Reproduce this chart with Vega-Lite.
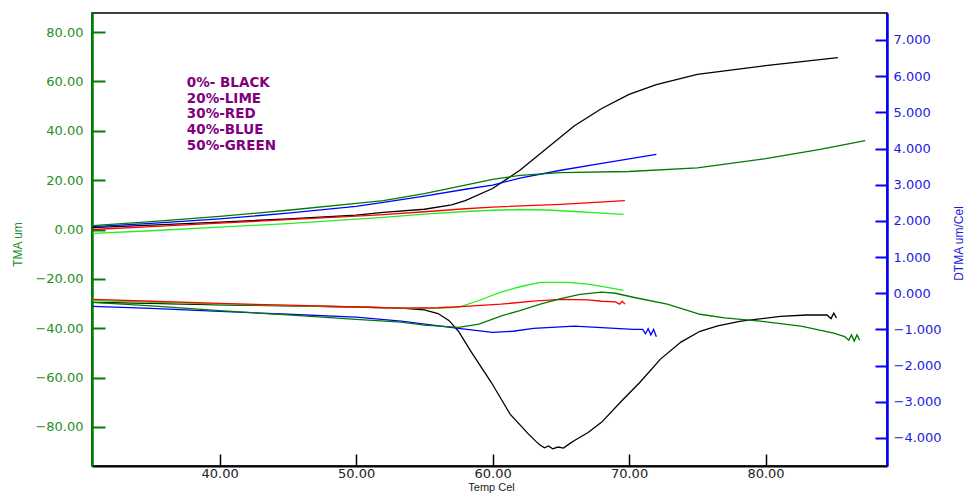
{
  "$schema": "https://vega.github.io/schema/vega-lite/v6.json",
  "autosize": "none",
  "width": 795,
  "height": 453,
  "padding": {"left": 92, "top": 13, "right": 77, "bottom": 28},
  "background": "white",
  "view": {"stroke": "black", "strokeWidth": 1.5},
  "datasets": {
    "tma": [
      {"T": 30.7, "v": 0.8, "s": "0%"}, {"T": 35, "v": 1.8, "s": "0%"}, {"T": 40, "v": 3.0, "s": "0%"}, {"T": 45, "v": 4.3, "s": "0%"}, {"T": 50, "v": 5.8, "s": "0%"}, {"T": 52, "v": 6.9, "s": "0%"}, {"T": 55, "v": 8.2, "s": "0%"}, {"T": 57, "v": 10, "s": "0%"}, {"T": 58, "v": 11.7, "s": "0%"}, {"T": 60, "v": 16.6, "s": "0%"}, {"T": 62, "v": 24, "s": "0%"}, {"T": 64, "v": 33, "s": "0%"}, {"T": 66, "v": 42, "s": "0%"}, {"T": 68, "v": 49, "s": "0%"}, {"T": 70, "v": 54.7, "s": "0%"}, {"T": 72, "v": 58.7, "s": "0%"}, {"T": 75, "v": 62.8, "s": "0%"}, {"T": 80, "v": 66.4, "s": "0%"}, {"T": 85.3, "v": 69.6, "s": "0%"},
      {"T": 30.7, "v": -1.6, "s": "20%"}, {"T": 35, "v": -0.5, "s": "20%"}, {"T": 40, "v": 1.0, "s": "20%"}, {"T": 45, "v": 2.4, "s": "20%"}, {"T": 50, "v": 4.2, "s": "20%"}, {"T": 52, "v": 4.9, "s": "20%"}, {"T": 55, "v": 6.2, "s": "20%"}, {"T": 58, "v": 7.3, "s": "20%"}, {"T": 60, "v": 7.8, "s": "20%"}, {"T": 62, "v": 8.1, "s": "20%"}, {"T": 64, "v": 7.9, "s": "20%"}, {"T": 66, "v": 7.3, "s": "20%"}, {"T": 68, "v": 6.6, "s": "20%"}, {"T": 69.6, "v": 6.1, "s": "20%"},
      {"T": 30.7, "v": 0.0, "s": "30%"}, {"T": 35, "v": 1.2, "s": "30%"}, {"T": 40, "v": 2.6, "s": "30%"}, {"T": 45, "v": 4.0, "s": "30%"}, {"T": 50, "v": 5.4, "s": "30%"}, {"T": 52, "v": 6.0, "s": "30%"}, {"T": 55, "v": 7.2, "s": "30%"}, {"T": 58, "v": 8.4, "s": "30%"}, {"T": 60, "v": 9.1, "s": "30%"}, {"T": 65, "v": 10.2, "s": "30%"}, {"T": 69.7, "v": 11.7, "s": "30%"},
      {"T": 30.7, "v": 1.2, "s": "40%"}, {"T": 35, "v": 2.5, "s": "40%"}, {"T": 40, "v": 4.3, "s": "40%"}, {"T": 45, "v": 6.6, "s": "40%"}, {"T": 50, "v": 9.4, "s": "40%"}, {"T": 52, "v": 11.0, "s": "40%"}, {"T": 55, "v": 13.5, "s": "40%"}, {"T": 58, "v": 16.3, "s": "40%"}, {"T": 60, "v": 18, "s": "40%"}, {"T": 62, "v": 20.8, "s": "40%"}, {"T": 65, "v": 24, "s": "40%"}, {"T": 68, "v": 26.8, "s": "40%"}, {"T": 72, "v": 30.4, "s": "40%"},
      {"T": 30.7, "v": 1.6, "s": "50%"}, {"T": 35, "v": 3.2, "s": "50%"}, {"T": 40, "v": 5.3, "s": "50%"}, {"T": 45, "v": 7.8, "s": "50%"}, {"T": 50, "v": 10.6, "s": "50%"}, {"T": 52, "v": 11.7, "s": "50%"}, {"T": 55, "v": 14.5, "s": "50%"}, {"T": 58, "v": 18, "s": "50%"}, {"T": 60, "v": 20.3, "s": "50%"}, {"T": 62, "v": 21.9, "s": "50%"}, {"T": 65, "v": 23, "s": "50%"}, {"T": 70, "v": 23.5, "s": "50%"}, {"T": 75, "v": 25, "s": "50%"}, {"T": 80, "v": 28.7, "s": "50%"}, {"T": 84, "v": 32.5, "s": "50%"}, {"T": 87.3, "v": 36, "s": "50%"}
    ],
    "dtma": [
      {"T": 30.7, "v": -0.25, "s": "0%"}, {"T": 35, "v": -0.28, "s": "0%"}, {"T": 40, "v": -0.32, "s": "0%"}, {"T": 45, "v": -0.35, "s": "0%"}, {"T": 50, "v": -0.38, "s": "0%"}, {"T": 53.3, "v": -0.41, "s": "0%"}, {"T": 55, "v": -0.46, "s": "0%"}, {"T": 56, "v": -0.56, "s": "0%"}, {"T": 56.8, "v": -0.75, "s": "0%"}, {"T": 57.5, "v": -1.05, "s": "0%"}, {"T": 58.4, "v": -1.6, "s": "0%"}, {"T": 59.9, "v": -2.46, "s": "0%"}, {"T": 61.3, "v": -3.35, "s": "0%"}, {"T": 62.6, "v": -3.88, "s": "0%"}, {"T": 63.2, "v": -4.1, "s": "0%"}, {"T": 63.5, "v": -4.2, "s": "0%"}, {"T": 63.8, "v": -4.27, "s": "0%"}, {"T": 64.1, "v": -4.22, "s": "0%"}, {"T": 64.4, "v": -4.3, "s": "0%"}, {"T": 64.8, "v": -4.25, "s": "0%"}, {"T": 65.2, "v": -4.28, "s": "0%"}, {"T": 65.6, "v": -4.17, "s": "0%"}, {"T": 66, "v": -4.07, "s": "0%"}, {"T": 67, "v": -3.85, "s": "0%"}, {"T": 68, "v": -3.56, "s": "0%"}, {"T": 69.4, "v": -3.0, "s": "0%"}, {"T": 70.8, "v": -2.46, "s": "0%"}, {"T": 72.3, "v": -1.82, "s": "0%"}, {"T": 73.8, "v": -1.35, "s": "0%"}, {"T": 75.2, "v": -1.05, "s": "0%"}, {"T": 76.5, "v": -0.9, "s": "0%"}, {"T": 78.2, "v": -0.77, "s": "0%"}, {"T": 81.1, "v": -0.64, "s": "0%"}, {"T": 83, "v": -0.6, "s": "0%"}, {"T": 84.5, "v": -0.6, "s": "0%"}, {"T": 84.8, "v": -0.7, "s": "0%"}, {"T": 85.0, "v": -0.55, "s": "0%"}, {"T": 85.2, "v": -0.68, "s": "0%"},
      {"T": 30.7, "v": -0.2, "s": "20%"}, {"T": 35, "v": -0.25, "s": "20%"}, {"T": 40, "v": -0.3, "s": "20%"}, {"T": 45, "v": -0.34, "s": "20%"}, {"T": 50, "v": -0.38, "s": "20%"}, {"T": 53.3, "v": -0.41, "s": "20%"}, {"T": 55.5, "v": -0.42, "s": "20%"}, {"T": 57.5, "v": -0.39, "s": "20%"}, {"T": 59, "v": -0.2, "s": "20%"}, {"T": 60.6, "v": 0.03, "s": "20%"}, {"T": 62, "v": 0.18, "s": "20%"}, {"T": 63.5, "v": 0.3, "s": "20%"}, {"T": 65.5, "v": 0.3, "s": "20%"}, {"T": 67, "v": 0.25, "s": "20%"}, {"T": 68, "v": 0.19, "s": "20%"}, {"T": 69.6, "v": 0.08, "s": "20%"},
      {"T": 30.7, "v": -0.17, "s": "30%"}, {"T": 35, "v": -0.22, "s": "30%"}, {"T": 40, "v": -0.28, "s": "30%"}, {"T": 45, "v": -0.33, "s": "30%"}, {"T": 50, "v": -0.38, "s": "30%"}, {"T": 53.3, "v": -0.41, "s": "30%"}, {"T": 56, "v": -0.4, "s": "30%"}, {"T": 58, "v": -0.36, "s": "30%"}, {"T": 60.6, "v": -0.3, "s": "30%"}, {"T": 63, "v": -0.22, "s": "30%"}, {"T": 65, "v": -0.17, "s": "30%"}, {"T": 67, "v": -0.18, "s": "30%"}, {"T": 68, "v": -0.22, "s": "30%"}, {"T": 69, "v": -0.24, "s": "30%"}, {"T": 69.3, "v": -0.3, "s": "30%"}, {"T": 69.5, "v": -0.22, "s": "30%"}, {"T": 69.7, "v": -0.3, "s": "30%"},
      {"T": 30.7, "v": -0.36, "s": "40%"}, {"T": 35, "v": -0.42, "s": "40%"}, {"T": 40, "v": -0.5, "s": "40%"}, {"T": 45, "v": -0.58, "s": "40%"}, {"T": 50, "v": -0.66, "s": "40%"}, {"T": 53.3, "v": -0.77, "s": "40%"}, {"T": 57.5, "v": -0.97, "s": "40%"}, {"T": 60, "v": -1.08, "s": "40%"}, {"T": 61.5, "v": -1.05, "s": "40%"}, {"T": 63, "v": -0.97, "s": "40%"}, {"T": 66, "v": -0.91, "s": "40%"}, {"T": 68, "v": -0.95, "s": "40%"}, {"T": 70.3, "v": -1.0, "s": "40%"}, {"T": 71, "v": -1.0, "s": "40%"}, {"T": 71.2, "v": -1.12, "s": "40%"}, {"T": 71.4, "v": -0.98, "s": "40%"}, {"T": 71.6, "v": -1.15, "s": "40%"}, {"T": 71.8, "v": -1.0, "s": "40%"}, {"T": 72, "v": -1.2, "s": "40%"},
      {"T": 30.7, "v": -0.25, "s": "50%"}, {"T": 35, "v": -0.35, "s": "50%"}, {"T": 40, "v": -0.48, "s": "50%"}, {"T": 45, "v": -0.6, "s": "50%"}, {"T": 50, "v": -0.72, "s": "50%"}, {"T": 53.3, "v": -0.8, "s": "50%"}, {"T": 55, "v": -0.88, "s": "50%"}, {"T": 57.5, "v": -0.94, "s": "50%"}, {"T": 59, "v": -0.85, "s": "50%"}, {"T": 60.6, "v": -0.63, "s": "50%"}, {"T": 62, "v": -0.48, "s": "50%"}, {"T": 63.5, "v": -0.3, "s": "50%"}, {"T": 65, "v": -0.15, "s": "50%"}, {"T": 66.4, "v": -0.03, "s": "50%"}, {"T": 68, "v": 0.03, "s": "50%"}, {"T": 69, "v": 0.0, "s": "50%"}, {"T": 70.3, "v": -0.11, "s": "50%"}, {"T": 72.8, "v": -0.3, "s": "50%"}, {"T": 75.2, "v": -0.58, "s": "50%"}, {"T": 77, "v": -0.68, "s": "50%"}, {"T": 79.6, "v": -0.77, "s": "50%"}, {"T": 82.6, "v": -0.91, "s": "50%"}, {"T": 85, "v": -1.1, "s": "50%"}, {"T": 85.8, "v": -1.2, "s": "50%"}, {"T": 86.1, "v": -1.3, "s": "50%"}, {"T": 86.3, "v": -1.15, "s": "50%"}, {"T": 86.5, "v": -1.32, "s": "50%"}, {"T": 86.7, "v": -1.15, "s": "50%"}, {"T": 86.9, "v": -1.3, "s": "50%"}
    ],
    "notes": [
      {"T": 37.6, "v": 59.5, "label": "0%- BLACK"},
      {"T": 37.6, "v": 53.0, "label": "20%-LIME"},
      {"T": 37.6, "v": 46.7, "label": "30%-RED"},
      {"T": 37.6, "v": 40.4, "label": "40%-BLUE"},
      {"T": 37.6, "v": 34.0, "label": "50%-GREEN"}
    ]
  },
  "encoding": {
    "x": {
      "field": "T", "type": "quantitative",
      "scale": {"domain": [30.65, 88.9], "nice": false, "zero": false},
      "axis": {
        "title": "Temp Cel", "values": [40, 50, 60, 70, 80], "format": ".2f",
        "grid": false, "domainColor": "black", "domainWidth": 2,
        "tickColor": "black", "tickSize": -12, "tickWidth": 1.5,
        "labelFont": "DejaVu Sans", "labelFontSize": 13, "labelColor": "#222222", "labelPadding": 13,
        "titleFont": "Liberation Sans", "titleFontSize": 11, "titleFontWeight": "normal", "titleColor": "#222222",
        "titleX": 399, "titleY": 21.5, "titleBaseline": "middle"
      }
    }
  },
  "layer": [
    {
      "data": {"name": "tma"},
      "layer": [
        {
          "data": {"name": "tma"},
          "mark": {"type": "line", "strokeWidth": 1.3, "clip": true},
          "encoding": {
            "y": {
              "field": "v", "type": "quantitative",
              "scale": {"domain": [-95.8, 87.7], "nice": false, "zero": false},
              "axis": {
                "orient": "left", "title": "TMA um", "values": [-80, -60, -40, -20, 0, 20, 40, 60, 80], "format": ".2f",
                "grid": false, "domainColor": "#008000", "domainWidth": 2.5,
                "tickColor": "#008000", "tickSize": -13, "tickWidth": 2,
                "labelFont": "DejaVu Sans", "labelFontSize": 13, "labelColor": "#1f8f1f", "labelPadding": 22,
                "titleFont": "Liberation Sans", "titleFontSize": 12, "titleFontWeight": "normal", "titleColor": "#1f8f1f",
                "titleX": -75, "titleY": 231, "titleAngle": 270, "titleAlign": "center", "titleBaseline": "middle"
              }
            },
            "color": {
              "field": "s", "type": "nominal", "legend": null,
              "scale": {"domain": ["0%", "20%", "30%", "40%", "50%"], "range": ["#000000", "#22ee22", "#ff0000", "#0000ff", "#007a00"]}
            },
            "order": {"field": "T", "type": "quantitative"}
          }
        },
        {
          "data": {"name": "notes"},
          "mark": {"type": "text", "align": "left", "baseline": "middle", "font": "DejaVu Sans", "fontWeight": "bold", "fontSize": 13.5, "color": "#800080"},
          "encoding": {
            "y": {"field": "v", "type": "quantitative"},
            "text": {"field": "label"}
          }
        }
      ]
    },
    {
      "data": {"name": "dtma"},
      "mark": {"type": "line", "strokeWidth": 1.3, "clip": true},
      "encoding": {
        "y": {
          "field": "v", "type": "quantitative",
          "scale": {"domain": [-4.774, 7.746], "nice": false, "zero": false},
          "axis": {
            "orient": "right", "title": "DTMA um/Cel", "values": [-4, -3, -2, -1, 0, 1, 2, 3, 4, 5, 6, 7], "format": ".3f",
            "grid": false, "domainColor": "#0000ff", "domainWidth": 2.5,
            "tickColor": "#0000ff", "tickSize": -12, "tickWidth": 2,
            "labelFont": "DejaVu Sans", "labelFontSize": 13, "labelColor": "#1c1ce0", "labelPadding": 18,
            "titleFont": "Liberation Sans", "titleFontSize": 12, "titleFontWeight": "normal", "titleColor": "#1c1ce0",
            "titleX": 71, "titleY": 230, "titleAngle": 270, "titleAlign": "center", "titleBaseline": "middle"
          }
        },
        "color": {
          "field": "s", "type": "nominal", "legend": null,
          "scale": {"domain": ["0%", "20%", "30%", "40%", "50%"], "range": ["#000000", "#22ee22", "#ff0000", "#0000ff", "#007a00"]}
        },
        "order": {"field": "T", "type": "quantitative"}
      }
    }
  ],
  "resolve": {"scale": {"y": "independent"}}
}
